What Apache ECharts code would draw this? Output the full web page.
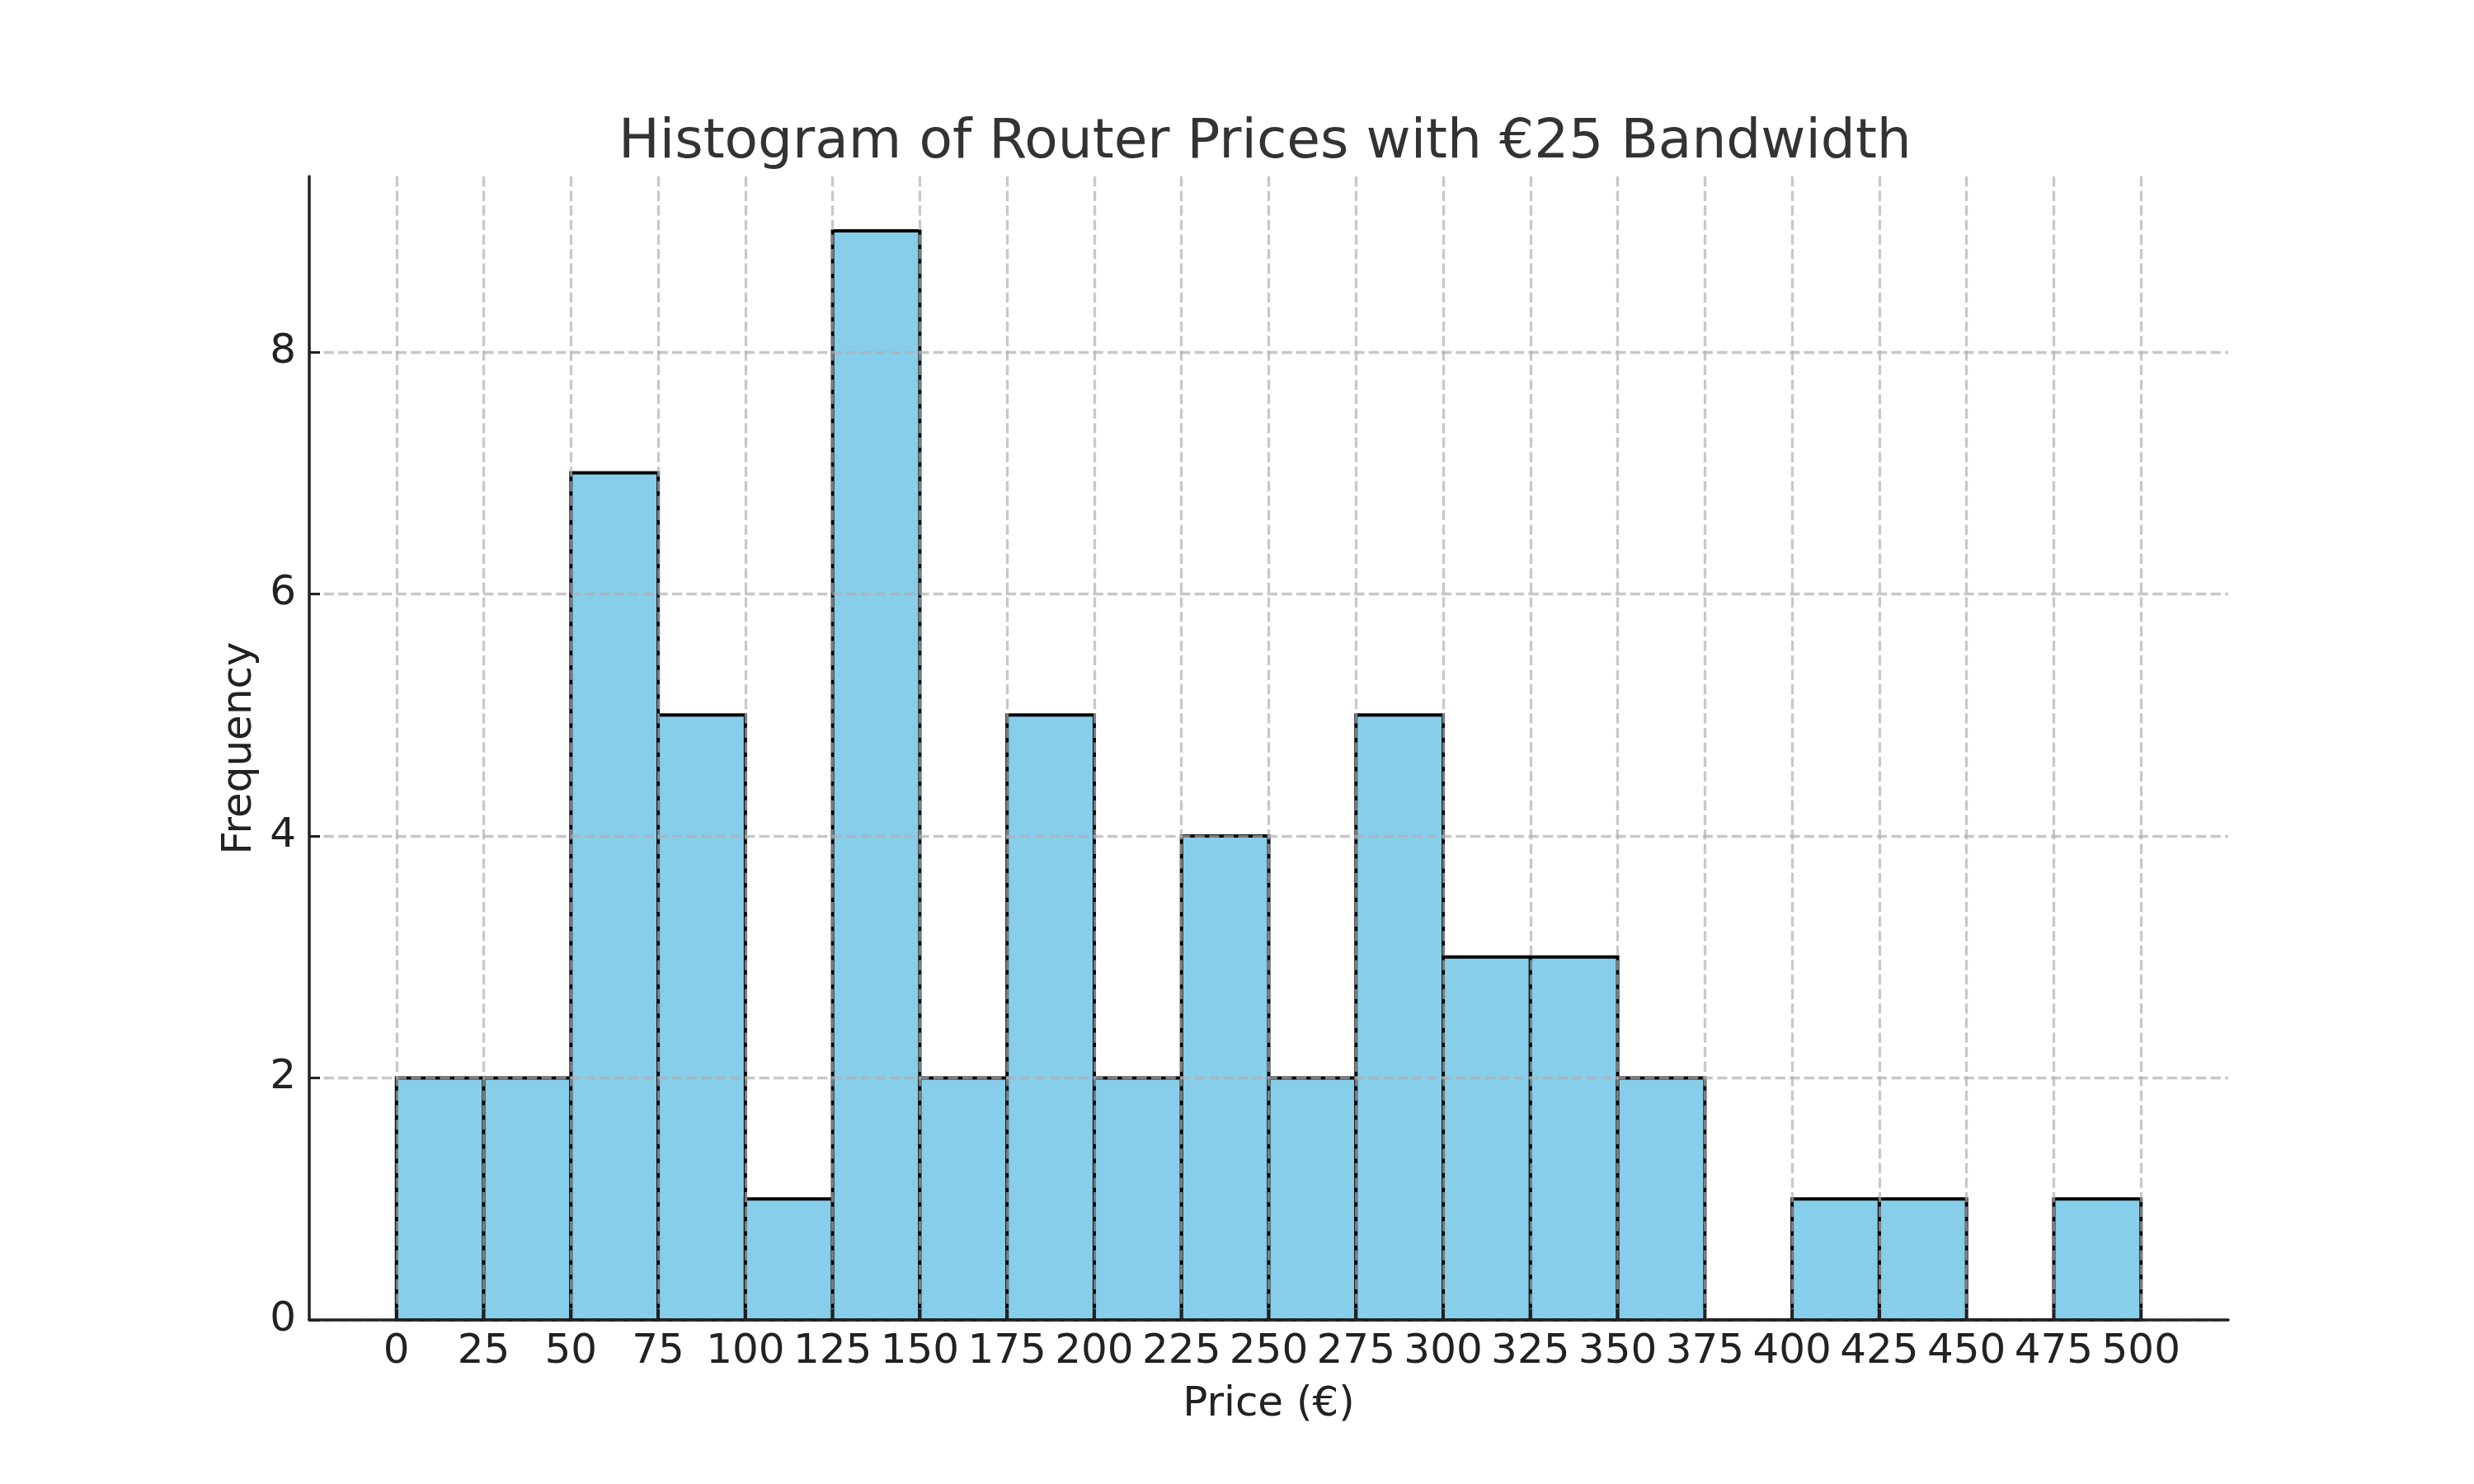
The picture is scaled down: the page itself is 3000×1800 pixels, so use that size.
<!DOCTYPE html>
<html>
<head>
<meta charset="utf-8">
<script src="https://cdn.jsdelivr.net/npm/echarts@6/dist/echarts.min.js"></script>
<style>html,body{margin:0;padding:0;background:#fff;}#c{width:3000px;height:1800px;}</style>
</head>
<body>
<div id="c"></div>
<script>
// Bin edges (€) and counts per €25 bin
const binStarts = [0,25,50,75,100,125,150,175,200,225,250,275,300,325,350,375,400,425,450,475];
const binWidth = 25;
const counts = [2,2,7,5,1,9,2,5,2,4,2,5,3,3,2,0,1,1,0,1];
const xTicks = [0,25,50,75,100,125,150,175,200,225,250,275,300,325,350,375,400,425,450,475,500];
const yTicks = [0,2,4,6,8];

const titleText = 'Histogram of Router Prices with €25 Bandwidth';
const xName = 'Price (€)';
const yName = 'Frequency';

const data = binStarts.map((s, i) => [s, s + binWidth, counts[i]]);

const font = 'DejaVu Sans';
const gridLine = { show: true, lineStyle: { color: '#b0b0b0', opacity: 0.7, width: 3.3, type: [12.3, 5.3] } };

const chart = echarts.init(document.getElementById('c'), null, { renderer: 'canvas' });
chart.setOption({
  animation: false,
  backgroundColor: '#ffffff',
  title: {
    text: titleText,
    left: 750, top: 141, padding: 0,
    textStyle: { fontFamily: font, fontSize: 66.2, fontWeight: 'normal', color: '#333333' }
  },
  grid: { left: 375, right: 298, top: 214, bottom: 199, containLabel: false },
  xAxis: {
    type: 'value', min: -25, max: 525, interval: 25,
    name: xName, nameLocation: 'middle', nameGap: 78,
    nameTextStyle: { fontFamily: font, fontSize: 50, color: '#222' },
    axisLine: { show: true, onZero: false, lineStyle: { color: '#222', width: 3.5 } },
    axisTick: { show: true, inside: true, length: 13, customValues: xTicks, lineStyle: { color: '#222', width: 3 } },
    axisLabel: { customValues: xTicks, fontFamily: font, fontSize: 50, color: '#222', margin: 14 },
    splitLine: gridLine
  },
  yAxis: {
    type: 'value', min: 0, max: 9.45, interval: 2,
    name: yName, nameLocation: 'middle', nameGap: 53,
    nameTextStyle: { fontFamily: font, fontSize: 50, color: '#222' },
    axisLine: { show: true, onZero: false, lineStyle: { color: '#222', width: 3.5 } },
    axisTick: { show: true, inside: true, length: 13, customValues: yTicks, lineStyle: { color: '#222', width: 3 } },
    axisLabel: { customValues: yTicks, fontFamily: font, fontSize: 50, color: '#222', margin: 16 },
    splitLine: gridLine
  },
  series: [{
    type: 'custom',
    z: -1,
    data: data,
    encode: { x: [0, 1], y: 2 },
    renderItem: function (params, api) {
      const p0 = api.coord([api.value(0), api.value(2)]);
      const p1 = api.coord([api.value(1), 0]);
      return {
        type: 'rect',
        shape: { x: p0[0], y: p0[1], width: p1[0] - p0[0], height: p1[1] - p0[1] },
        style: { fill: '#87CEEB', stroke: '#000000', lineWidth: 4 }
      };
    }
  }]
});
</script>
</body>
</html>
